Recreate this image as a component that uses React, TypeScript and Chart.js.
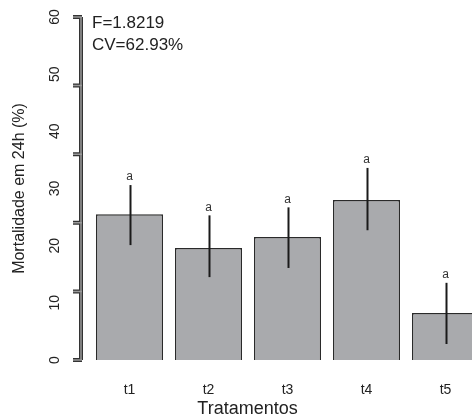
import React, { useEffect, useRef } from "react";
import { Chart, registerables } from "chart.js";

Chart.register(...registerables);

const categories = ["t1", "t2", "t3", "t4", "t5"];
const mortality = [25.5, 19.6, 21.5, 28.0, 8.2];
const errUpper = [30.6, 25.3, 26.7, 33.6, 13.5];
const errLower = [20.1, 14.5, 16.1, 22.7, 2.8];
const groups = ["a", "a", "a", "a", "a"];
const axisMarks = [0, 12, 24, 36, 48, 60];
const statsLines = ["F=1.8219", "CV=62.93%"];

const FONT = "'Liberation Sans', Arial, Helvetica, sans-serif";

const decorPlugin = {
  id: "decor",
  afterDatasetsDraw(chart: any) {
    const { ctx, chartArea, scales } = chart;
    const y = scales.y;
    const meta = chart.getDatasetMeta(0);
    ctx.save();
    // error bars
    ctx.strokeStyle = "#1a1a1a";
    ctx.lineWidth = 2;
    meta.data.forEach((bar: any, i: number) => {
      const x = Math.round(bar.x) + 0.5;
      const yt = y.getPixelForValue(errUpper[i]);
      const yb = y.getPixelForValue(errLower[i]);
      ctx.beginPath();
      ctx.moveTo(x, yt);
      ctx.lineTo(x, yb);
      ctx.stroke();
      ctx.fillStyle = "#333";
      ctx.font = `12px ${FONT}`;
      ctx.textAlign = "center";
      ctx.textBaseline = "bottom";
      ctx.fillText(groups[i], bar.x, yt - 2);
    });
    // left axis with ticks
    const ax = chartArea.left - 9;
    const y0 = y.getPixelForValue(0);
    const y1 = y.getPixelForValue(60);
    const drawAxis = () => {
      ctx.beginPath();
      ctx.moveTo(ax, y1);
      ctx.lineTo(ax, y0);
      axisMarks.forEach((v) => {
        const py = y.getPixelForValue(v);
        ctx.moveTo(ax - 8, py);
        ctx.lineTo(ax + 1, py);
      });
      ctx.stroke();
    };
    ctx.lineCap = "butt";
    ctx.strokeStyle = "#333";
    ctx.lineWidth = 4;
    drawAxis();
    ctx.strokeStyle = "#999";
    ctx.lineWidth = 1.5;
    drawAxis();
    // stats text
    ctx.fillStyle = "#222";
    ctx.font = `17px ${FONT}`;
    ctx.textAlign = "left";
    ctx.textBaseline = "middle";
    statsLines.forEach((t, i) => {
      ctx.fillText(t, chartArea.left + 2, chartArea.top + 6 + i * 22);
    });
    ctx.restore();
  },
};

export default function App() {
  const ref = useRef<HTMLCanvasElement>(null);
  useEffect(() => {
    if (!ref.current) return;
    const chart = new Chart(ref.current, {
      type: "bar",
      data: {
        labels: categories,
        datasets: [
          {
            data: mortality,
            backgroundColor: "#a9aaad",
            borderColor: "#2a2a2a",
            borderWidth: 1.5,
            barPercentage: 0.85,
            categoryPercentage: 1,
          },
        ],
      },
      options: {
        animation: false,
        responsive: false,
        devicePixelRatio: 1,
        layout: { padding: { top: 17, left: 10, right: 0, bottom: 0 } },
        plugins: {
          legend: { display: false },
          tooltip: { enabled: false },
          title: {
            display: true,
            text: "Tratamentos",
            position: "bottom",
            color: "#222",
            font: { family: FONT, size: 18, weight: "normal" },
            padding: { top: 0, bottom: 0 },
          },
        },
        scales: {
          x: {
            grid: { display: false, drawTicks: false },
            border: { display: false },
            ticks: {
              color: "#222",
              font: { family: FONT, size: 14 },
              padding: 22,
            },
            afterFit: (s: any) => {
              s.height = 420 - 360 - 21.6;
              s.paddingLeft = 0;
              s.paddingRight = 0;
            },
          },
          y: {
            min: 0,
            max: 60,
            grid: { display: false, drawTicks: false },
            border: { display: false },
            ticks: {
              stepSize: 10,
              color: "#222",
              font: { family: FONT, size: 14 },
              minRotation: 90,
              maxRotation: 90,
              crossAlign: "center",
              padding: 27,
            },
            title: {
              display: true,
              text: "Mortalidade em 24h (%)",
              color: "#222",
              font: { family: FONT, size: 16, weight: "normal" },
              padding: 0,
            },
            afterFit: (s: any) => {
              s.width = 80;
              s.paddingTop = 0;
              s.paddingBottom = 0;
            },
          },
        },
      },
      plugins: [decorPlugin],
    });
    return () => chart.destroy();
  }, []);
  return (
    <div
      style={{
        position: "fixed",
        left: 0,
        top: 0,
        width: 472,
        height: 420,
        overflow: "hidden",
        background: "#fff",
      }}
    >
      <canvas ref={ref} width={485} height={420} style={{ display: "block" }} />
    </div>
  );
}
